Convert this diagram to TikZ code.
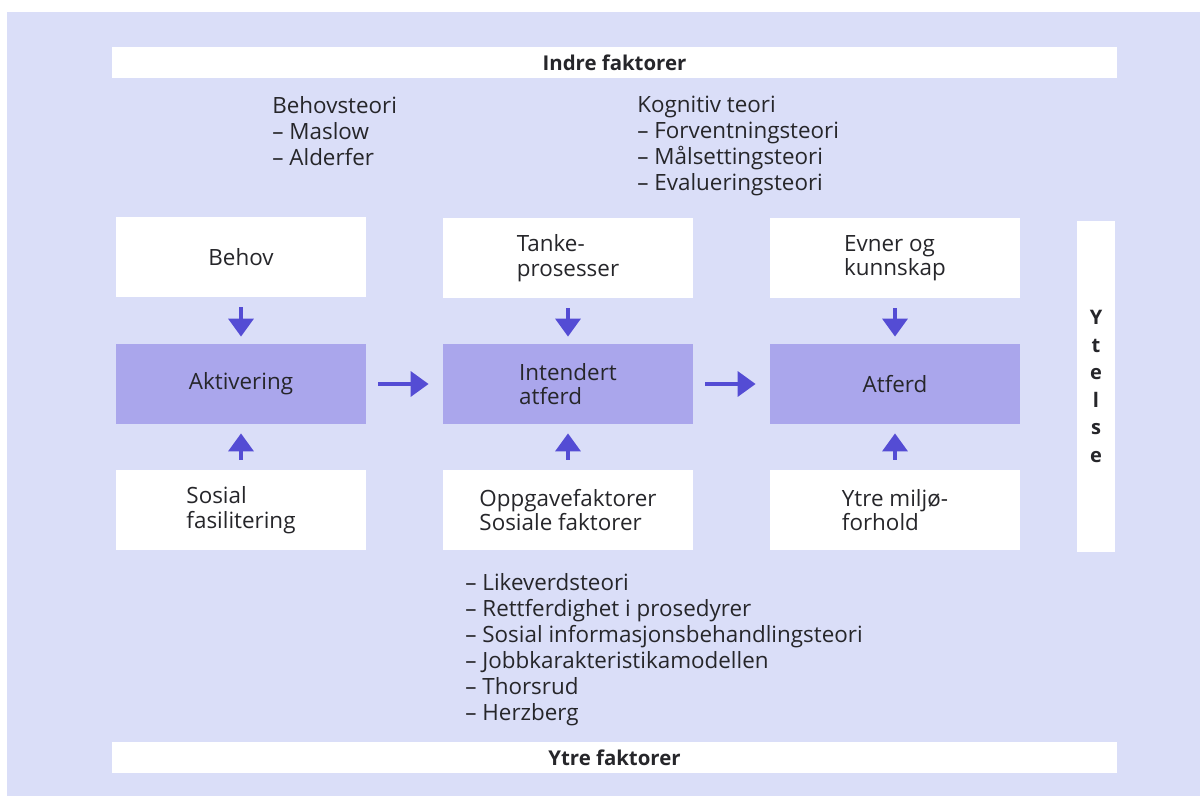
\documentclass[tikz,border=0pt]{standalone}
\usepackage{fontspec}
\setmainfont{Open Sans}
\usetikzlibrary{arrows.meta}
\definecolor{bgblue}{RGB}{218,222,248}
\definecolor{boxviolet}{RGB}{170,166,236}
\definecolor{arrowblue}{RGB}{84,76,212}
\definecolor{txtgray}{RGB}{38,38,42}
\tikzset{
  whitebox/.style={fill=white, minimum width=125pt, minimum height=40pt, align=left, inner sep=0pt, font=\fontsize{11.2}{12.2}\selectfont},
  violetbox/.style={whitebox, fill=boxviolet},
  factorbar/.style={fill=white, minimum width=502.5pt, minimum height=15.5pt, inner sep=0pt, font=\fontsize{10.2}{11}\selectfont\bfseries},
  theory/.style={anchor=north west, align=left, inner sep=0pt},
  flow/.style={draw=arrowblue, line width=1.8pt, -{Triangle[width=12.5pt,length=9pt]}}
}
\begin{document}
\begin{tikzpicture}[x=0.5pt,y=-0.5pt,font=\fontsize{11.2}{13}\selectfont,text=txtgray]
\useasboundingbox (0,0) rectangle (1200,796);
\fill[bgblue] (7,12) rectangle (1200,796);
\node[factorbar] (indre) at (614.5,62.5) {Indre faktorer};
\node[factorbar] (ytre) at (614.5,757.5) {Ytre faktorer};
\node[theory] (behovteori) at (272,96) {Behovsteori\\– Maslow\\– Alderfer};
\node[theory] (kognitiv) at (637,96) {Kognitiv teori\\– Forventningsteori\\– Målsettingsteori\\– Evalueringsteori};
\node[theory] (rettferd) at (465,573) {– Likeverdsteori\\– Rettferdighet i prosedyrer\\– Sosial informasjonsbehandlingsteori\\– Jobbkarakteristikamodellen\\– Thorsrud\\– Herzberg};
% top row
\node[whitebox] (behov) at (241,257) {Behov};
\node[whitebox] (tanke) at (568,258) {Tanke-\\prosesser};
\node[whitebox] (evner) at (895,258) {Evner og\\kunnskap};
% middle row
\node[violetbox] (aktiv) at (241,384) {Aktivering};
\node[violetbox] (intend) at (568,384) {Intendert\\atferd};
\node[violetbox] (atferd) at (895,384) {Atferd};
% bottom row
\node[whitebox] (sosial) at (241,510) {Sosial\\fasilitering};
\node[whitebox] (oppgave) at (568,510) {Oppgavefaktorer\\Sosiale faktorer};
\node[whitebox] (miljo) at (895,510) {Ytre miljø-\\forhold};
\node[whitebox, minimum width=19pt, minimum height=165.5pt, align=center, font=\fontsize{10}{13.8}\selectfont\bfseries] (ytelse) at (1096,386.5) {Y\\t\\e\\l\\s\\e};
% arrows
\foreach \a/\b in {behov/aktiv, tanke/intend, evner/atferd}
  \draw[flow, shorten <=5pt, shorten >=3.5pt] (\a.south) -- (\b.north);
\foreach \a/\b in {sosial/aktiv, oppgave/intend, miljo/atferd}
  \draw[flow, shorten <=5pt, shorten >=4.5pt] (\a.north) -- (\b.south);
\draw[flow, shorten <=6pt, shorten >=7pt] (aktiv.east) -- (intend.west);
\draw[flow, shorten <=6pt, shorten >=7pt] (intend.east) -- (atferd.west);
\end{tikzpicture}
\end{document}
